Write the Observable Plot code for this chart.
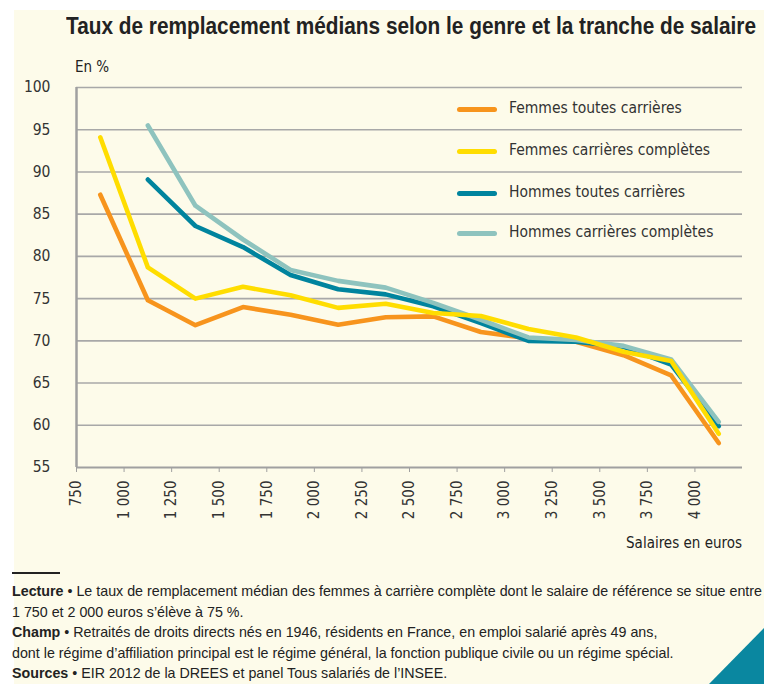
<!DOCTYPE html>
<html>
<head>
<meta charset="utf-8">
<script src="https://cdn.jsdelivr.net/npm/d3@7"></script>
<script src="https://cdn.jsdelivr.net/npm/@observablehq/plot@0.6"></script>
<style>
  html, body { margin: 0; padding: 0; background: #ffffff; }
  #wrap { position: relative; width: 764px; height: 684px; overflow: hidden; background: #ffffff;
          font-family: "Liberation Sans Narrow", "Arial Narrow", "DejaVu Sans Condensed", sans-serif; color: #333; }
  #cream { position: absolute; left: 14px; top: 10px; right: 0; bottom: 0; background: #FDFBEA; }
  #title { position: absolute; left: 66px; top: 13px; font-family: "Liberation Sans", Arial, sans-serif; font-size: 23px; font-weight: bold; color: #222; white-space: nowrap; transform-origin: 0 0; }
  #unit { position: absolute; left: 75px; top: 58px; font-size: 15px; color: #222; }
  #xlabel { position: absolute; right: 22px; top: 534px; font-size: 15px; color: #222; }
  #chart { position: absolute; left: 0; top: 0; }
  .leg { position: absolute; left: 457px; height: 0; }
  .leg .sw { position: absolute; left: 0; top: -2.5px; width: 40px; height: 5px; border-radius: 3px; }
  .leg .tx { position: absolute; left: 52px; top: -10px; font-size: 15.5px; color: #333; white-space: nowrap; }
  #rule { position: absolute; left: 12px; top: 572px; width: 48px; height: 2px; background: #222; }
  #foot { position: absolute; left: 12px; top: 581px; font-family: "Liberation Sans", Arial, sans-serif; font-size: 14.5px; line-height: 20.5px; color: #222; white-space: nowrap; transform-origin: 0 0; }
  #foot b { font-weight: bold; }
  #tri { position: absolute; left: 0; top: 0; }
</style>
</head>
<body>
<div id="wrap">
  <div id="cream"></div>
  <div id="title">Taux de remplacement médians selon le genre et la tranche de salaire</div>
  <div id="unit">En %</div>
  <div id="chart"></div>
  <div id="legend"></div>
  <div id="xlabel">Salaires en euros</div>
  <div id="rule"></div>
  <div id="foot"><b>Lecture</b> • Le taux de remplacement médian des femmes à carrière complète dont le salaire de référence se situe entre<br>1 750 et 2 000 euros s’élève à 75 %.<br><b>Champ</b> • Retraités de droits directs nés en 1946, résidents en France, en emploi salarié après 49 ans,<br>dont le régime d’affiliation principal est le régime général, la fonction publique civile ou un régime spécial.<br><b>Sources</b> • EIR 2012 de la DREES et panel Tous salariés de l’INSEE.</div>
  <svg id="tri" width="764" height="684"><polygon points="709,684 764,628 764,684" fill="#0A87A0"/></svg>
</div>
<script>
// ---- Data ----
const salaires = [875, 1125, 1375, 1625, 1875, 2125, 2375, 2625, 2875, 3125, 3375, 3625, 3875, 4125];
const femmesToutes   = [87.3, 74.8, 71.85, 74.0, 73.1, 71.9, 72.8, 72.9, 71.05, 70.3, 69.9, 68.3, 65.9, 57.9];
const femmesCompletes = [94.1, 78.7, 75.0, 76.4, 75.4, 73.9, 74.4, 73.3, 72.95, 71.4, 70.4, 68.7, 67.6, 59.0];
const hommesToutes   = [null, 89.1, 83.6, 81.1, 77.8, 76.1, 75.5, 74.1, 72.1, 70.0, 69.9, 69.3, 67.2, 59.9];
const hommesCompletes = [null, 95.5, 86.0, 82.0, 78.4, 77.1, 76.3, 74.5, 72.5, 70.4, 70.1, 69.4, 67.8, 60.4];

const seriesNames = ["Femmes toutes carrières", "Femmes carrières complètes", "Hommes toutes carrières", "Hommes carrières complètes"];
const seriesColors = ["#F7941D", "#FFDD00", "#00849E", "#8EC3BE"];
const drawOrder = ["Femmes toutes carrières", "Hommes toutes carrières", "Hommes carrières complètes", "Femmes carrières complètes"];

const xTicks = d3.range(750, 4001, 250);
const yTicks = d3.range(55, 101, 5);
const xDomain = [750, 4250];
const yDomain = [55, 100];

// ---- Build table ----
const valuesBySeries = {
  "Femmes toutes carrières": femmesToutes,
  "Femmes carrières complètes": femmesCompletes,
  "Hommes toutes carrières": hommesToutes,
  "Hommes carrières complètes": hommesCompletes
};
const rows = [];
for (const s of drawOrder) {
  valuesBySeries[s].forEach((v, i) => { if (v != null) rows.push({serie: s, salaire: salaires[i], taux: v}); });
}

const fmt = d3.formatLocale({thousands: "\u00a0", grouping: [3], decimal: ",", currency: ["", ""]}).format(",");

const plot = Plot.plot({
  width: 764,
  height: 684,
  marginLeft: 76,
  marginRight: 22,
  marginTop: 87,
  marginBottom: 217,
  style: {background: "transparent", fontFamily: "'Liberation Sans Narrow', 'Arial Narrow', 'DejaVu Sans Condensed', sans-serif", fontSize: "15px", color: "#333"},
  x: {domain: xDomain},
  y: {domain: yDomain},
  color: {domain: seriesNames, range: seriesColors},
  marks: [
    Plot.ruleY(yTicks.filter(d => d > 55), {stroke: "#A8A8A8", strokeWidth: 1.6}),
    Plot.ruleY([55], {stroke: "#A0A0A0", strokeWidth: 2}),
    Plot.ruleX([750], {stroke: "#A0A0A0", strokeWidth: 2.5}),
    Plot.axisY({ticks: yTicks, tickSize: 0, tickPadding: 26, fontSize: 15.5, label: null, tickFormat: d => String(d)}),
    Plot.axisX({ticks: xTicks, tickSize: 5, tickPadding: 8, tickRotate: -90, fontSize: 15, label: null, tickFormat: fmt, stroke: "#A0A0A0"}),
    Plot.line(rows, {x: "salaire", y: "taux", z: "serie", stroke: "serie", strokeWidth: 4.6, strokeLinecap: "round", strokeLinejoin: "round"})
  ]
});
document.getElementById("chart").appendChild(plot);

// ---- Legend ----
const legendY = [109, 151, 193, 233];
const leg = document.getElementById("legend");
seriesNames.forEach((name, i) => {
  const d = document.createElement("div");
  d.className = "leg";
  d.style.top = legendY[i] + "px";
  d.innerHTML = `<div class="sw" style="background:${seriesColors[i]}"></div><div class="tx">${name}</div>`;
  leg.appendChild(d);
});

// ---- Condense title and footer to the reference widths ----
function fitWidth(id, target) {
  const el = document.getElementById(id);
  const w = el.getBoundingClientRect().width;
  el.style.transform = `scaleX(${target / w})`;
}
fitWidth("title", 690);
fitWidth("foot", 750);
</script>
</body>
</html>
